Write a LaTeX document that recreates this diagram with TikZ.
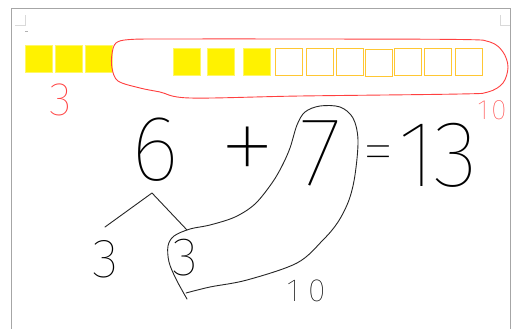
\documentclass[tikz,border=0pt]{standalone}
\usepackage{fontspec}
\IfFontExistsTF{Fira Sans Thin}{\newfontfamily\hand{Fira Sans Thin}}{%
 \IfFontExistsTF{Fira Sans ExtraLight}{\newfontfamily\hand{Fira Sans ExtraLight}}{%
  \IfFontExistsTF{DejaVu Sans ExtraLight}{\newfontfamily\hand{DejaVu Sans ExtraLight}}{%
   \IfFontExistsTF{Fira Sans Light}{\newfontfamily\hand{Fira Sans Light}}{%
    \newfontfamily\hand{DejaVu Sans}}}}}
\begin{document}
\begin{tikzpicture}[x=1pt,y=-1pt,
  ink/.style={draw=black!85,line width=0.9pt,line cap=round,line join=round},
  redink/.style={draw=red!75!white,line width=0.9pt,line cap=round,line join=round},
  full/.style={draw=yellow!60!white,fill=yellow,minimum size=27pt,inner sep=0pt,line width=0.5pt},
  empty/.style={draw=orange!55!yellow!80!white,minimum size=27pt,inner sep=0pt,line width=0.9pt},
  txt/.style={inner sep=0pt,font=\hand},
  redtxt/.style={inner sep=0pt,font=\hand,text=red!75!white}]
\useasboundingbox (0,0) rectangle (515,329);
\fill[white] (0,0) rectangle (515,329);
% page frame
\draw[black!35,line width=1pt] (11,329) -- (11,9) -- (510,9) -- (510,329);
\draw[black!15,line width=0.6pt] (15,25) -- (25,25) -- (25,15);
\draw[black!15,line width=0.6pt] (510,25) -- (500,25) -- (500,15);
\draw[black!30,line width=0.5pt] (25,31) -- (28,31);
% squares
\node[full] (f1) at (38.5,59) {};
\node[full] (f2) at (68.5,59) {};
\node[full] (f3) at (98.5,59) {};
\node[full] (f4) at (187,62) {};
\node[full] (f5) at (220.5,62) {};
\node[full] (f6) at (256.5,62) {};
\node[empty] (e1) at (289,62) {};
\node[empty] (e2) at (319.5,62) {};
\node[empty] (e3) at (349.5,62) {};
\node[empty] (e4) at (378.5,63) {};
\node[empty] (e5) at (408,62) {};
\node[empty] (e6) at (438,62) {};
\node[empty] (e7) at (469,62) {};
% red loop
\draw[redink] plot[smooth cycle,tension=0.55] coordinates {
  (116,43) (130,39.5) (170,39) (300,39) (460,39.5) (490,42) (503,52) (508,67)
  (503,83) (488,92) (460,94) (300,96) (190,98) (160,92) (140,88) (118,81) (112,68) (112,54)};
% red labels
\node[redtxt,font=\hand\fontsize{47}{47}\selectfont] (r3) at (61,100) {3};
\node[redtxt,font=\hand\fontsize{28}{28}\selectfont] (r10) at (492,110) {1\hspace{3pt}0};
% equation
\node[txt,font=\hand\fontsize{93}{93}\selectfont] (six) at (155,150) {6};
\node[txt,font=\hand\fontsize{120}{120}\selectfont] (plus) at (248,157) {+};
\node[txt,font=\hand\fontsize{98}{98}\selectfont] (seven) at (321,153) {7};
\node[txt,font=\hand\fontsize{66}{66}\selectfont] (eq) at (379,160) {=};
\node[txt,font=\hand\fontsize{94}{94}\selectfont] (thirteen) at (438,155) {1\hspace{-2pt}3};
\node[txt,font=\hand\fontsize{55}{55}\selectfont] (ta) at (106,259) {3};
\node[txt,font=\hand\fontsize{54}{54}\selectfont] (tb) at (185,258) {3};
\node[txt,font=\hand\fontsize{32}{32}\selectfont] (ten) at (306,291) {1\hspace{9pt}0};
% number bond
\coordinate (apex) at (152,193);
\coordinate (la) at (105,227);
\coordinate (lb) at (187,230);
\draw[ink] (la) -- (apex) -- (lb);
% loop around 3 and 7
\draw[ink] plot[smooth,tension=0.55] coordinates {
  (187,299) (176,279) (169,262) (168,246) (174,236) (190,229) (210,225) (235,217)
  (255,204) (272,183) (282,166) (290,148) (297,125) (305,112) (320,106) (340,107)
  (353,118) (358,140) (355,175) (349,200) (338,222) (323,240) (297,263) (247,280)
  (210,287) (186,293)};
\end{tikzpicture}
\end{document}
